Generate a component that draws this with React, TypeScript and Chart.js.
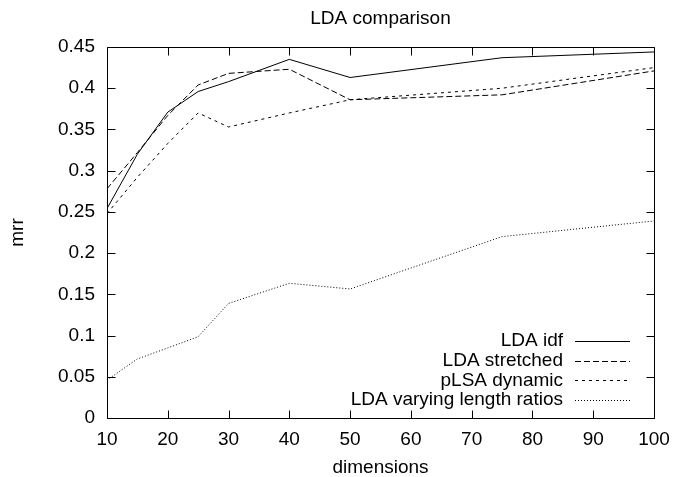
import React, { useEffect, useRef } from "react";
import { Chart, registerables } from "chart.js";

Chart.register(...registerables);

const dimensions = [10, 15, 20, 25, 30, 40, 50, 75, 100];
const ldaIdf = [0.254, 0.32, 0.371, 0.396, 0.408, 0.435, 0.413, 0.437, 0.444];
const ldaStretched = [0.278, 0.322, 0.367, 0.404, 0.418, 0.423, 0.386, 0.392, 0.421];
const plsaDynamic = [0.248, 0.292, 0.333, 0.37, 0.353, 0.37, 0.386, 0.4, 0.425];
const ldaVarying = [0.046, 0.0716, 0.085, 0.0986, 0.139, 0.1634, 0.1565, 0.22, 0.239];

const seriesNames = ["LDA idf", "LDA stretched", "pLSA dynamic", "LDA varying length ratios"];
const xTickValues = [10, 20, 30, 40, 50, 60, 70, 80, 90, 100];
const yTickLabels = ["0", "0.05", "0.1", "0.15", "0.2", "0.25", "0.3", "0.35", "0.4", "0.45"];

const FONT = "'Liberation Sans', Arial, Helvetica, sans-serif";

const framePlugin = {
  id: "gnuplotFrame",
  afterDraw(chart: any) {
    const { ctx, chartArea: a, scales } = chart;
    const xs = scales.x;
    const ys = scales.y;
    const L = 8;
    ctx.save();
    ctx.strokeStyle = "#000";
    ctx.lineWidth = 1;
    ctx.setLineDash([]);
    const l = Math.round(a.left) + 0.5;
    const r = Math.round(a.right) + 0.5;
    const t = Math.round(a.top) + 0.5;
    const b = Math.round(a.bottom) + 0.5;
    ctx.beginPath();
    ctx.rect(l, t, r - l, b - t);
    ctx.stroke();
    ctx.beginPath();
    xs.ticks.forEach((tk: any) => {
      const px = Math.round(xs.getPixelForValue(tk.value)) + 0.5;
      ctx.moveTo(px, b);
      ctx.lineTo(px, b - L);
      ctx.moveTo(px, t);
      ctx.lineTo(px, t + L);
    });
    ys.ticks.forEach((tk: any) => {
      const py = Math.round(ys.getPixelForValue(tk.value)) + 0.5;
      ctx.moveTo(l, py);
      ctx.lineTo(l + L, py);
      ctx.moveTo(r, py);
      ctx.lineTo(r - L, py);
    });
    ctx.stroke();

    // legend (gnuplot style: right-aligned text, sample line to the right)
    ctx.font = `19px ${FONT}`;
    ctx.fillStyle = "#000";
    ctx.textAlign = "right";
    ctx.textBaseline = "middle";
    const textRight = a.right - 91;
    const lineStart = a.right - 79;
    const lineEnd = a.right - 24;
    chart.data.datasets.forEach((ds: any, i: number) => {
      const cy = a.bottom - 77 + i * 19.7;
      ctx.fillText(ds.label, textRight, cy);
      ctx.save();
      ctx.strokeStyle = ds.borderColor;
      ctx.lineWidth = ds.borderWidth;
      ctx.setLineDash(ds.borderDash || []);
      ctx.beginPath();
      ctx.moveTo(lineStart, Math.round(cy) + 0.5);
      ctx.lineTo(lineEnd, Math.round(cy) + 0.5);
      ctx.stroke();
      ctx.restore();
    });
    ctx.restore();
  },
};

export default function App() {
  const ref = useRef<HTMLCanvasElement>(null);
  useEffect(() => {
    document.body.style.margin = "0";
    Chart.defaults.font.family = FONT;
    Chart.defaults.font.size = 19;
    Chart.defaults.color = "#000";
    const mk = (label: string, ys: number[], dash: number[], color: string) => ({
      label,
      data: dimensions.map((d, i) => ({ x: d, y: ys[i] })),
      borderColor: color,
      borderWidth: 1,
      borderDash: dash,
      pointRadius: 0,
      fill: false,
      tension: 0,
    });
    const chart = new Chart(ref.current!, {
      type: "line",
      data: {
        datasets: [
          mk(seriesNames[0], ldaIdf, [], "#000"),
          mk(seriesNames[1], ldaStretched, [6, 3], "#000"),
          mk(seriesNames[2], plsaDynamic, [3, 4], "#000"),
          mk(seriesNames[3], ldaVarying, [1, 2], "#000"),
        ],
      },
      options: {
        animation: false,
        responsive: false,
        maintainAspectRatio: false,
        layout: { padding: { top: 0, right: 20, bottom: 0, left: 0 } },
        plugins: {
          legend: { display: false },
          tooltip: { enabled: false },
          title: {
            display: true,
            fullSize: false,
            text: "LDA comparison",
            color: "#000",
            font: { size: 19, weight: "normal", lineHeight: 1, family: FONT },
            padding: { top: 9, bottom: 19 },
          },
        },
        scales: {
          x: {
            type: "linear",
            min: 10,
            max: 100,
            afterBuildTicks: (s: any) => {
              s.ticks = xTickValues.map((v) => ({ value: v }));
            },
            afterFit: (s: any) => {
              s.height = 59;
              s.paddingLeft = 0;
              s.paddingRight = 0;
            },
            grid: { display: false, drawTicks: false },
            border: { display: false },
            ticks: { padding: 10, maxRotation: 0, autoSkip: false, color: "#000" },
            title: {
              display: true,
              text: "dimensions",
              color: "#000",
              font: { size: 19, lineHeight: 1 },
              padding: { top: 0, bottom: 0 },
            },
          },
          y: {
            type: "linear",
            min: 0,
            max: 0.45,
            afterBuildTicks: (s: any) => {
              s.ticks = yTickLabels.map((v) => ({ value: parseFloat(v) }));
            },
            afterFit: (s: any) => {
              s.width = 107;
              s.paddingTop = 0;
              s.paddingBottom = 0;
            },
            grid: { display: false, drawTicks: false },
            border: { display: false },
            ticks: {
              padding: 12,
              autoSkip: false,
              color: "#000",
              callback: (v: any) => {
                const idx = yTickLabels.findIndex((t) => Math.abs(parseFloat(t) - v) < 1e-9);
                return idx >= 0 ? yTickLabels[idx] : "";
              },
            },
            title: {
              display: true,
              text: "mrr",
              color: "#000",
              font: { size: 19, lineHeight: 1 },
              padding: { top: 8, bottom: 0 },
            },
          },
        },
      },
      plugins: [framePlugin],
    } as any);
    return () => chart.destroy();
  }, []);
  return <canvas ref={ref} width={674} height={477} style={{ display: "block" }} />;
}
